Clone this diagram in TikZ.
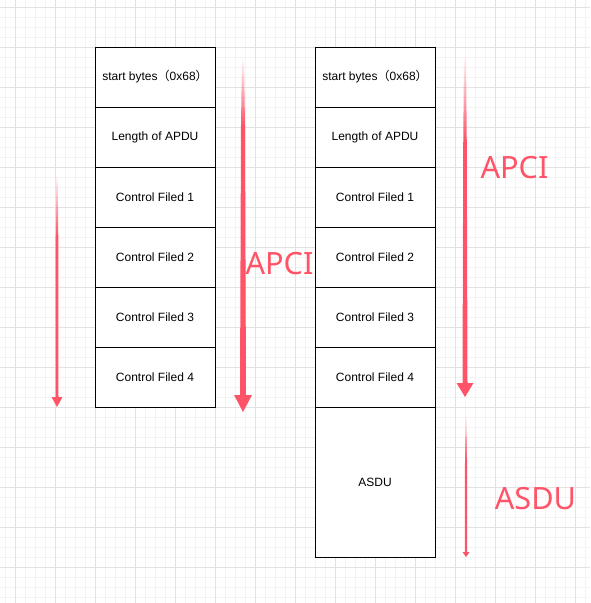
\documentclass[tikz,border=0pt]{standalone}
\usepackage{fontspec}
\setmainfont{Liberation Sans}
\newfontfamily\tagfont{Noto Sans}
\newfontfamily\cjk{Noto Sans CJK SC}
\usetikzlibrary{arrows.meta,positioning,calc,fadings}
\definecolor{GridMinor}{HTML}{F3F3F3}
\definecolor{GridMajor}{HTML}{E2E2E2}
\definecolor{ArrowRed}{HTML}{FF5468}
\tikzfading[name=fadetop, top color=transparent!100, bottom color=transparent!0]

\begin{document}
\begin{tikzpicture}[x=0.75pt, y=-0.75pt,
  field/.style={draw, line width=0.75pt, fill=white, minimum width=90pt,
                minimum height=45pt, inner sep=0pt, outer sep=0pt,
                align=center, font=\fontsize{9}{11}\selectfont},
  fadepart/.style={fill=ArrowRed, path fading=fadetop},
  solidpart/.style={fill=ArrowRed},
  tag/.style={text=ArrowRed, inner sep=0pt, font=\tagfont\fontsize{23}{28}\selectfont}
]
  \useasboundingbox (0,0) rectangle (590,603);
  % background grid
  \foreach \x in {5,15,...,585}
    \draw[GridMinor, line width=0.75pt] (\x,0) -- (\x,603);
  \foreach \y in {7,17,...,597}
    \draw[GridMinor, line width=0.75pt] (0,\y) -- (590,\y);
  \foreach \x in {15,55,...,575}
    \draw[GridMajor, line width=0.75pt] (\x,0) -- (\x,603);
  \foreach \y in {7,47,...,567}
    \draw[GridMajor, line width=0.75pt] (0,\y) -- (590,\y);

  % left frame
  \node[field] (start1) at (155,77) {start bytes{\cjk（}0x68{\cjk）}};
  \node[field, below=0pt of start1] (len1) {Length of APDU};
  \node[field, below=0pt of len1] (ctrlA1) {Control Filed 1};
  \node[field, below=0pt of ctrlA1] (ctrlB1) {Control Filed 2};
  \node[field, below=0pt of ctrlB1] (ctrlC1) {Control Filed 3};
  \node[field, below=0pt of ctrlC1] (ctrlD1) {Control Filed 4};

  % right frame
  \node[field, right=75pt of start1] (start2) {start bytes{\cjk（}0x68{\cjk）}};
  \node[field, below=0pt of start2] (len2) {Length of APDU};
  \node[field, below=0pt of len2] (ctrlA2) {Control Filed 1};
  \node[field, below=0pt of ctrlA2] (ctrlB2) {Control Filed 2};
  \node[field, below=0pt of ctrlB2] (ctrlC2) {Control Filed 3};
  \node[field, below=0pt of ctrlC2] (ctrlD2) {Control Filed 4};
  \node[field, below=0pt of ctrlD2, minimum height=112.5pt] (asdu) {ASDU};

  % arrows
  \coordinate (topA) at (57,175);
  \coordinate (midA) at (57,235);
  \coordinate (tipA) at (57,407);
  \fill[fadepart] ($(topA)+(-0.75,0)$) -- ($(topA)+(0.75,0)$)
    -- ($(midA)+(1.25,0)$) -- ($(midA)+(-1.25,0)$) -- cycle;
  \fill[solidpart] ($(midA)+(-1.25,0)$) -- ($(midA)+(1.25,0)$)
    -- ($(tipA)+(1.5,-10)$) -- ($(tipA)+(5.5,-10)$) -- (tipA)
    -- ($(tipA)+(-5.5,-10)$) -- ($(tipA)+(-1.5,-10)$) -- cycle;

  \coordinate (topB) at (243,57);
  \coordinate (midB) at (243,125);
  \coordinate (tipB) at (243,412);
  \fill[fadepart] ($(topB)+(-1,0)$) -- ($(topB)+(1,0)$)
    -- ($(midB)+(2,0)$) -- ($(midB)+(-2,0)$) -- cycle;
  \fill[solidpart] ($(midB)+(-2,0)$) -- ($(midB)+(2,0)$)
    -- ($(tipB)+(3,-17)$) -- ($(tipB)+(9,-17)$) -- (tipB)
    -- ($(tipB)+(-9,-17)$) -- ($(tipB)+(-3,-17)$) -- cycle;

  \coordinate (topC) at (465,55);
  \coordinate (midC) at (465,140);
  \coordinate (tipC) at (465,397);
  \fill[fadepart] ($(topC)+(-1,0)$) -- ($(topC)+(1,0)$)
    -- ($(midC)+(1.75,0)$) -- ($(midC)+(-1.75,0)$) -- cycle;
  \fill[solidpart] ($(midC)+(-1.75,0)$) -- ($(midC)+(1.75,0)$)
    -- ($(tipC)+(2.5,-14)$) -- ($(tipC)+(8.5,-14)$) -- (tipC)
    -- ($(tipC)+(-8.5,-14)$) -- ($(tipC)+(-2.5,-14)$) -- cycle;

  \coordinate (topD) at (466,413);
  \coordinate (midD) at (466,460);
  \coordinate (tipD) at (466,557);
  \fill[fadepart] ($(topD)+(-0.5,0)$) -- ($(topD)+(0.5,0)$)
    -- ($(midD)+(1,0)$) -- ($(midD)+(-1,0)$) -- cycle;
  \fill[solidpart] ($(midD)+(-1,0)$) -- ($(midD)+(1,0)$)
    -- ($(tipD)+(1.2,-5)$) -- ($(tipD)+(3.5,-5)$) -- (tipD)
    -- ($(tipD)+(-3.5,-5)$) -- ($(tipD)+(-1.2,-5)$) -- cycle;

  % labels
  \node[tag] (apciL) at (279.5,263.5) {APCI};
  \node[tag] (apciR) at (514.5,167.5) {APCI};
  \node[tag] (asduL) at (535.5,499) {ASDU};
\end{tikzpicture}
\end{document}
